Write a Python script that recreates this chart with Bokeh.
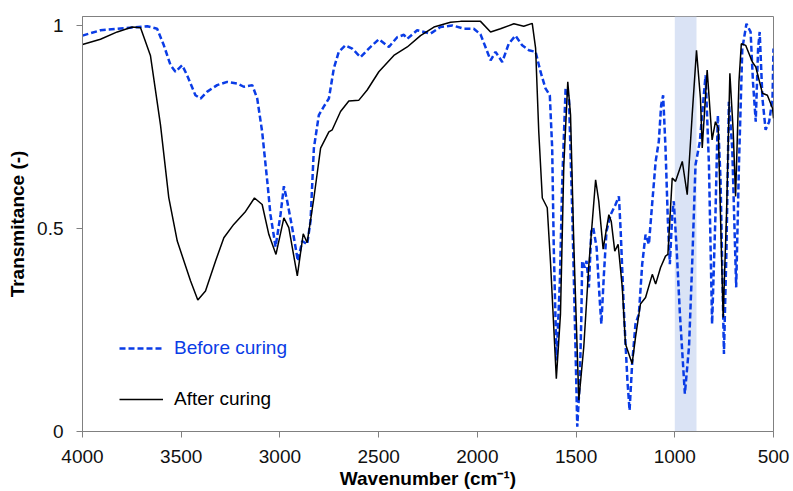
from bokeh.plotting import figure
from bokeh.models import Range1d, FixedTicker, BoxAnnotation, Legend, LegendItem
from bokeh.embed import file_html
from bokeh.resources import INLINE

# ---- data ----
wn_after = [4000, 3909, 3824, 3748, 3706, 3656, 3605, 3563, 3520, 3453, 3416, 3377, 3326, 3284,
            3234, 3174, 3129, 3090, 3056, 3020, 2980, 2955, 2912, 2882, 2862, 2828, 2794, 2752,
            2735, 2693, 2651, 2600, 2558, 2499, 2423, 2355, 2288, 2220, 2136, 2085, 1984, 1933,
            1883, 1815, 1765, 1722, 1705, 1689, 1671, 1646, 1629, 1600, 1579, 1562, 1542, 1528,
            1511, 1486, 1461, 1435, 1401, 1385, 1363, 1334, 1322, 1304, 1287, 1266, 1250, 1216,
            1199, 1174, 1148, 1114, 1097, 1072, 1047, 1035, 1013, 996, 962, 937, 912, 890, 870,
            861, 836, 811, 794, 780, 755, 738, 721, 704, 692, 675, 663, 641, 607, 590, 556, 531,
            505, 500]
t_after = [0.953, 0.966, 0.984, 0.996, 0.994, 0.926, 0.755, 0.576, 0.469, 0.371, 0.324, 0.346,
           0.420, 0.477, 0.510, 0.542, 0.575, 0.559, 0.485, 0.436, 0.526, 0.502, 0.383, 0.487,
           0.465, 0.575, 0.698, 0.738, 0.743, 0.788, 0.814, 0.816, 0.841, 0.886, 0.926, 0.947,
           0.975, 0.996, 1.008, 1.010, 1.010, 0.984, 0.992, 1.004, 0.998, 1.005, 0.944, 0.738,
           0.575, 0.551, 0.412, 0.130, 0.289, 0.657, 0.861, 0.779, 0.453, 0.077, 0.208, 0.412,
           0.620, 0.567, 0.449, 0.534, 0.518, 0.444, 0.461, 0.355, 0.216, 0.167, 0.232, 0.314,
           0.330, 0.387, 0.363, 0.404, 0.432, 0.436, 0.624, 0.616, 0.665, 0.583, 0.779, 0.939,
           0.820, 0.698, 0.890, 0.718, 0.763, 0.747, 0.281, 0.534, 0.882, 0.738, 0.579, 0.861,
           0.955, 0.951, 0.910, 0.898, 0.833, 0.828, 0.796, 0.771]

wn_before = [4000, 3909, 3791, 3672, 3622, 3588, 3554, 3529, 3495, 3470, 3428, 3402, 3368, 3318,
             3267, 3216, 3183, 3140, 3115, 3090, 3064, 3048, 3022, 2997, 2980, 2963, 2938, 2909,
             2887, 2862, 2845, 2828, 2803, 2778, 2752, 2727, 2702, 2668, 2634, 2592, 2550, 2499,
             2448, 2406, 2372, 2355, 2305, 2237, 2187, 2127, 2069, 2018, 1984, 1959, 1933, 1908,
             1874, 1841, 1807, 1773, 1739, 1705, 1680, 1655, 1633, 1621, 1613, 1599, 1582, 1570,
             1553, 1536, 1519, 1503, 1494, 1481, 1473, 1469, 1456, 1447, 1435, 1423, 1413, 1396,
             1381, 1372, 1359, 1346, 1325, 1300, 1283, 1274, 1257, 1240, 1229, 1216, 1199, 1182,
             1165, 1148, 1131, 1123, 1097, 1081, 1069, 1059, 1047, 1035, 1025, 1013, 1005, 991,
             974, 949, 928, 912, 895, 873, 856, 844, 827, 811, 794, 782, 768, 751, 738, 726, 709,
             689, 675, 658, 637, 616, 604, 590, 578, 570, 556, 540, 522, 505, 500]
t_before = [0.975, 0.988, 0.993, 0.998, 0.992, 0.951, 0.902, 0.886, 0.902, 0.877, 0.828, 0.820,
            0.837, 0.853, 0.861, 0.857, 0.849, 0.853, 0.820, 0.738, 0.616, 0.534, 0.455, 0.534,
            0.604, 0.567, 0.502, 0.420, 0.469, 0.461, 0.518, 0.698, 0.779, 0.800, 0.820, 0.894,
            0.935, 0.951, 0.943, 0.922, 0.943, 0.966, 0.947, 0.971, 0.977, 0.967, 0.988, 0.980,
            0.996, 1.000, 0.992, 0.992, 0.978, 0.947, 0.914, 0.935, 0.910, 0.955, 0.975, 0.951,
            0.939, 0.935, 0.886, 0.845, 0.828, 0.698, 0.453, 0.175, 0.371, 0.616, 0.845, 0.820,
            0.534, 0.208, 0.012, 0.126, 0.289, 0.420, 0.404, 0.420, 0.355, 0.493, 0.502, 0.453,
            0.330, 0.265, 0.387, 0.493, 0.534, 0.559, 0.579, 0.493, 0.289, 0.126, 0.052, 0.167,
            0.265, 0.289, 0.412, 0.485, 0.461, 0.510, 0.665, 0.714, 0.804, 0.828, 0.698, 0.518,
            0.412, 0.534, 0.567, 0.453, 0.289, 0.093, 0.208, 0.412, 0.657, 0.714, 0.812, 0.877,
            0.657, 0.265, 0.534, 0.779, 0.616, 0.191, 0.453, 0.812, 0.698, 0.355, 0.657, 0.943,
            1.004, 0.984, 0.861, 0.763, 0.943, 0.984, 0.820, 0.743, 0.763, 0.820, 0.943]

series_names = ["Before curing", "After curing"]
x_ticks = [4000, 3500, 3000, 2500, 2000, 1500, 1000, 500]
y_ticks = [0, 0.5, 1]
y_tick_labels = ["0", "0.5", "1"]
band = [1000, 890]

FONT = "Liberation Sans"
BLUE = "#0a3ce6"
GREY = "#808080"

p = figure(width=793, height=491, output_backend="svg", toolbar_location=None,
           x_range=Range1d(4000, 500), y_range=Range1d(0, 1.022),
           min_border_left=82, min_border_right=20, min_border_top=16, min_border_bottom=58)
p.background_fill_color = "white"
p.border_fill_color = "white"
p.outline_line_color = GREY
p.outline_line_width = 1
p.grid.visible = False

p.add_layout(BoxAnnotation(left=band[1], right=band[0], fill_color="#dae3f5", fill_alpha=1.0,
                           line_alpha=0, level="underlay"))

r_before = p.line(wn_before, t_before, line_color=BLUE, line_width=2.5, line_dash="6 3")
r_after = p.line(wn_after, t_after, line_color="black", line_width=1.5)

for ax in (p.xaxis[0], p.yaxis[0]):
    ax.axis_line_color = GREY
    ax.major_tick_line_color = GREY
    ax.minor_tick_line_color = None
    ax.major_tick_in = 0
    ax.major_tick_out = 6
    ax.major_label_text_font = FONT
    ax.major_label_text_font_size = "19px"
    ax.major_label_text_color = "#111111"
    ax.axis_label_text_font = FONT
    ax.axis_label_text_font_size = "19px"
    ax.axis_label_text_font_style = "bold"
    ax.axis_label_text_color = "black"

p.xaxis.ticker = FixedTicker(ticks=x_ticks)
p.yaxis.ticker = FixedTicker(ticks=y_ticks)
p.yaxis.major_label_overrides = {k: v for k, v in zip(y_ticks, y_tick_labels)}
p.xaxis.axis_label = "Wavenumber (cm⁻¹)"
p.yaxis.axis_label = "Transmitance (-)"
p.xaxis.major_label_standoff = 12
p.xaxis.axis_label_standoff = 2
p.yaxis.major_label_standoff = 13
p.yaxis.axis_label_standoff = 6

def make_legend(name, rend, color, loc):
    return Legend(items=[LegendItem(label=name, renderers=[rend])], location=loc,
                  border_line_alpha=0, background_fill_alpha=0, padding=0, margin=0,
                  glyph_width=44, glyph_height=20, label_standoff=11,
                  label_text_font=FONT, label_text_font_size="19px",
                  label_text_color=color, label_height=20)

p.add_layout(make_legend(series_names[0], r_before, BLUE, (37, 72)))
p.add_layout(make_legend(series_names[1], r_after, "black", (37, 21)))

open("out.html", "w").write(file_html(p, INLINE))
